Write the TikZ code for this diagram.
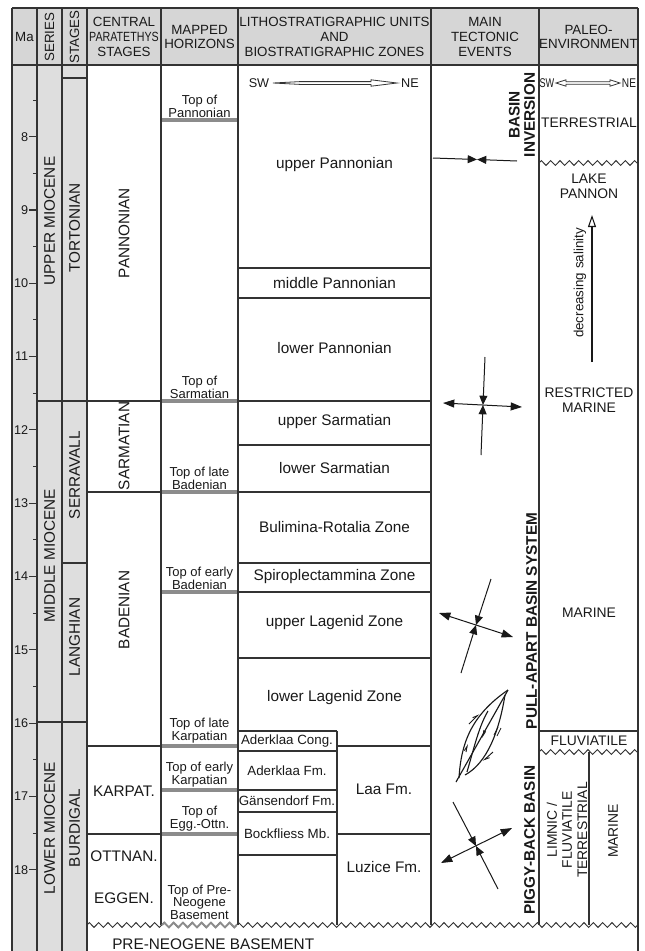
\documentclass[tikz,border=0pt]{standalone}
\usepackage{fontspec}
\setmainfont{Liberation Sans}
\usetikzlibrary{arrows.meta,decorations.pathmorphing}

\begin{document}
\begin{tikzpicture}[x=0.75pt,y=-0.75pt,
    edgeline/.style={draw=black!80, line width=0.8pt},
    horizon/.style={draw=black!45, line width=2.6pt},
    wavy/.style={draw=black!80, line width=0.7pt, decorate,
      decoration={zigzag, segment length=7pt, amplitude=1.8pt}},
    every node/.style={inner sep=0pt, text=black!90},
    hdr/.style={font=\fontsize{10}{11}\selectfont, align=center},
    unit/.style={font=\fontsize{11.5}{13}\selectfont},
    vunit/.style={unit, rotate=90},
    hor/.style={font=\fontsize{9.75}{9.6}\selectfont, align=center, anchor=south},
    fm/.style={font=\fontsize{10}{11}\selectfont},
    compass/.style={font=\fontsize{9.5}{10}\selectfont},
    tect/.style={font=\bfseries\fontsize{11.5}{11.5}\selectfont, rotate=90, align=center},
    env/.style={font=\fontsize{10.4}{11.3}\selectfont, align=center},
    ext/.style={draw=black!90, line width=0.75pt,
      {Triangle[length=8.5pt,width=6pt]}-{Triangle[length=8.5pt,width=6pt]}},
    comp/.style={draw=black!90, line width=0.75pt, -{Triangle[length=7pt,width=6pt]}},
    fault/.style={draw=black!90, line width=0.85pt},
    shear/.style={draw=black!90, line width=0.7pt, -{Straight Barb[left,length=3.5pt,width=2.8pt]}}
  ]
  \useasboundingbox (0,0) rectangle (645,951);

  % shaded header and time columns
  \fill[black!16] (12,8) rectangle (638,65);
  \fill[black!13] (12,65) rectangle (87,951);

  % frame
  \foreach \x in {12,37,62,87,638}
    \draw[edgeline] (\x,8) -- (\x,951);
  \foreach \x in {161,238,431,539}
    \draw[edgeline] (\x,8) -- (\x,925);
  \draw[edgeline] (12,8) -- (638,8);
  \draw[edgeline] (12,65) -- (638,65);

  % header
  \node[hdr] (hma) at (24.5,37) {Ma};
  \node[hdr, rotate=90] (hser) at (49.5,37) {SERIES};
  \node[hdr, rotate=90] (hsta) at (74.5,37) {STAGES};
  \node[hdr] (hcen) at (124,37) {CENTRAL\\\scalebox{0.8}[1]{PARATETHYS}\\STAGES};
  \node[hdr] (hmap) at (199.5,37) {MAPPED\\HORIZONS};
  \node[hdr] (hlit) at (334.5,37) {LITHOSTRATIGRAPHIC UNITS\\AND\\BIOSTRATIGRAPHIC ZONES};
  \node[hdr] (htec) at (485,37) {MAIN\\TECTONIC\\EVENTS};
  \node[hdr] (hpal) at (588.5,37) {PALEO-\\ENVIRONMENT};

  % time scale
  \foreach \t in {8,...,18} {
    \draw[edgeline] (29,{73.3*\t-449.7}) coordinate (tick\t) -- ++(8,0);
    \node[fm, anchor=east, font=\fontsize{9.5}{10}\selectfont] (ma\t) at ([xshift=-0.4pt]tick\t) {\t};
  }
  \foreach \t in {7.5,8.5,...,17.5}
    \draw[edgeline] (33,{73.3*\t-449.7}) -- ++(4,0);

  % series and stages
  \draw[edgeline] (37,401) -- (161,401);
  \draw[edgeline] (37,722) -- (87,722);
  \draw[edgeline] (62,78) -- (87,78);
  \draw[edgeline] (62,563) -- (87,563);
  \node[vunit] (upmio) at (49.5,221) {UPPER MIOCENE};
  \node[vunit] (midmio) at (49.5,556) {MIDDLE MIOCENE};
  \node[vunit] (lowmio) at (49.5,828) {LOWER MIOCENE};
  \node[vunit] (tort) at (74.5,228) {TORTONIAN};
  \node[vunit] (serr) at (74.5,475) {SERRAVALL};
  \node[vunit] (lang) at (74.5,637) {LANGHIAN};
  \node[vunit] (burd) at (74.5,828) {BURDIGAL};

  % central paratethys stages
  \foreach \y in {492,746,834}
    \draw[edgeline] (87,\y) -- (161,\y);
  \node[vunit] (pann) at (124,233) {PANNONIAN};
  \node[vunit] (sarm) at (124,446) {SARMATIAN};
  \node[vunit] (bade) at (124,610) {BADENIAN};
  \node[unit] (karp) at (124,791) {KARPAT.};
  \node[unit] (ottn) at (124,856) {OTTNAN.};
  \node[unit] (eggn) at (124,898) {EGGEN.};

  % mapped horizons
  \foreach \y in {120,401,492,592,746,790,834}
    \draw[horizon] (162,\y) -- (237,\y);
  \node[hor] (tpan) at (199.5,117.5) {Top of\\Pannonian};
  \node[hor] (tsar) at (199.5,398.5) {Top of\\Sarmatian};
  \node[hor] (tlbad) at (199.5,489.5) {Top of late\\Badenian};
  \node[hor] (tebad) at (199.5,589.5) {Top of early\\Badenian};
  \node[hor] (tlkar) at (199.5,743.5) {Top of late\\Karpatian};
  \node[hor] (tekar) at (199.5,787.5) {Top of early\\Karpatian};
  \node[hor] (tegg) at (199.5,831.5) {Top of\\Egg.-Ottn.};
  \node[hor] (tbas) at (199.5,920) {Top of Pre-\\Neogene\\Basement};

  % lithostratigraphic units and zones
  \foreach \y in {268,298,401,445,492,563,592,658}
    \draw[edgeline] (238,\y) -- (431,\y);
  \draw[edgeline] (238,731) -- (337,731);
  \draw[edgeline] (337,746) -- (431,746);
  \foreach \y in {751,790,812,855}
    \draw[edgeline] (238,\y) -- (337,\y);
  \draw[edgeline] (337,834) -- (431,834);
  \draw[edgeline] (337,731) -- (337,925);
  \node[compass] (sw1) at (259,83) {SW};
  \node[compass] (ne1) at (410,83) {NE};
  \draw[black!80, line width=0.6pt, fill=white] (273,83) -- (300,81.6) -- (371,81.6) -- (371,79.8)
    -- (397,83) -- (371,86.2) -- (371,84.4) -- (300,84.4) -- cycle;
  \node[unit] (upan) at (334.5,165) {upper Pannonian};
  \node[unit] (mpan) at (334.5,283) {middle Pannonian};
  \node[unit] (lpan) at (334.5,348) {lower Pannonian};
  \node[unit] (usar) at (334.5,422) {upper Sarmatian};
  \node[unit] (lsar) at (334.5,468) {lower Sarmatian};
  \node[unit] (bulr) at (334.5,527) {Bulimina-Rotalia Zone};
  \node[unit] (spir) at (334.5,577) {Spiroplectammina Zone};
  \node[unit] (ulag) at (334.5,623) {upper Lagenid Zone};
  \node[unit] (llag) at (334.5,698) {lower Lagenid Zone};
  \node[fm] (adcg) at (287,741) {Aderklaa Cong.};
  \node[fm] (adfm) at (287,771) {Aderklaa Fm.};
  \node[fm] (gafm) at (287,801) {Gänsendorf Fm.};
  \node[fm] (bomb) at (287,834) {Bockfliess Mb.};
  \node[unit] (laafm) at (384,789) {Laa Fm.};
  \node[unit] (luzfm) at (384,867) {Luzice Fm.};

  % main tectonic events
  \node[tect] (inver) at (522,115) {BASIN\\INVERSION};
  \node[tect] (pullap) at (531.5,621) {PULL-APART BASIN SYSTEM};
  \node[tect] (piggy) at (529.5,840) {PIGGY-BACK BASIN};
  \coordinate (ia) at (433,158);
  \coordinate (ib) at (517,161);
  \coordinate (ic) at (477,159.5);
  \draw[comp] (ia) -- (ic);
  \draw[comp] (ib) -- (ic);
  \coordinate (c1) at (483,405);
  \coordinate (c1w) at (443,403);
  \coordinate (c1e) at (522,407);
  \coordinate (c1n) at (485,357);
  \coordinate (c1s) at (481,455);
  \draw[ext] (c1w) -- (c1e);
  \draw[comp] (c1n) -- (c1);
  \draw[comp] (c1s) -- (c1);
  \coordinate (c2) at (476,625);
  \coordinate (c2w) at (439,613);
  \coordinate (c2e) at (513,637);
  \coordinate (c2n) at (491,579);
  \coordinate (c2s) at (461,673);
  \draw[ext] (c2w) -- (c2e);
  \draw[comp] (c2n) -- (c2);
  \draw[comp] (c2s) -- (c2);
  \coordinate (c3) at (476,846);
  \coordinate (c3w) at (441,863);
  \coordinate (c3e) at (512,828);
  \coordinate (c3n) at (453,802);
  \coordinate (c3s) at (498,889);
  \draw[ext] (c3w) -- (c3e);
  \draw[comp] (c3n) -- (c3);
  \draw[comp] (c3s) -- (c3);
  % pull-apart duplex
  \draw[fault] (456,782) -- (508,690);
  \draw[fault] (459,778) .. controls (461,745) and (470,716) .. (508,690);
  \draw[fault] (467,772) .. controls (474,748) and (479,726) .. (488,711);
  \draw[fault] (465,775) .. controls (487,763) and (499,732) .. (505,695);
  \draw[shear] (469,724) -- (479,714);
  \draw[shear] (493,752) -- (483,761);
  \draw[shear] (466,752) -- (467.5,744);
  \draw[shear] (484,730) -- (482.5,738);
  \draw[black!90, line width=0.55pt] (494,735) -- (498,727) (497,736) -- (501,728);

  % paleo-environment
  \node[compass] (sw2) at (547,83) {\scalebox{0.72}[1]{SW}};
  \node[compass] (ne2) at (629,83) {\scalebox{0.8}[1]{NE}};
  \draw[black!80, line width=0.6pt, fill=white] (556,83) -- (566,79.8) -- (566,81.8) -- (610,81.8)
    -- (610,79.8) -- (620,83) -- (610,86.2) -- (610,84.2) -- (566,84.2) -- (566,86.2) -- cycle;
  \draw[wavy] (539,163) -- (638,163);
  \draw[edgeline] (539,731) -- (638,731);
  \draw[wavy] (539,752) -- (638,752);
  \draw[edgeline] (589,752) -- (589,925);
  \node[env] (terr) at (589,123) {TERRESTRIAL};
  \node[env] (lake) at (589,186) {LAKE\\PANNON};
  \node[env] (restr) at (589,400) {RESTRICTED\\MARINE};
  \node[env] (mari) at (589,613) {MARINE};
  \node[env] (fluv) at (589,741) {FLUVIATILE};
  \node[env, rotate=90] (limn) at (567,830) {LIMNIC /\\FLUVIATILE\\TERRESTRIAL};
  \node[env, rotate=90] (mari2) at (613,831) {MARINE};
  \node[fm, rotate=90] (salin) at (580,283) {decreasing salinity};
  \coordinate (sa) at (592,362);
  \coordinate (sb) at (592,215);
  \draw[black!90, line width=0.8pt, -{Triangle[open,length=9pt,width=6pt]}] (sa) -- (sb);

  % base
  \draw[wavy] (87,925) -- (638,925);
  \draw[horizon, line width=1.4pt, decorate,
    decoration={zigzag, segment length=7pt, amplitude=1.8pt}] (162,925) -- (237,925);
  \node[unit, anchor=west] (base) at (112,944) {PRE-NEOGENE BASEMENT};
\end{tikzpicture}
\end{document}
